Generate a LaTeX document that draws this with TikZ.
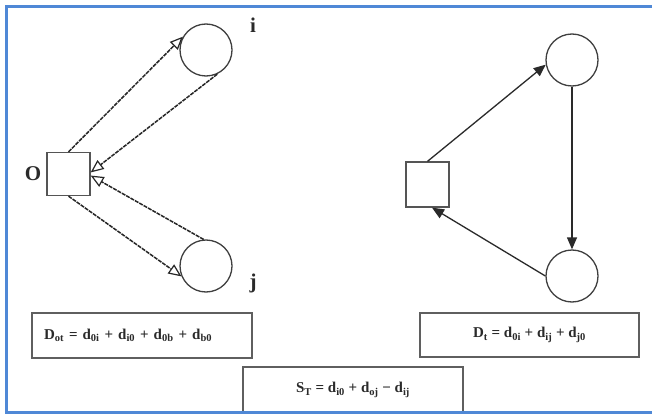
\documentclass[tikz,border=0pt]{standalone}
\usepackage{fontspec}
\setmainfont{Liberation Serif}
\usetikzlibrary{arrows.meta}
\definecolor{frameblue}{HTML}{4F88D6}
\definecolor{ink}{HTML}{2A2A2A}
\begin{document}
\begin{tikzpicture}[x=1pt,y=-1pt,
  sq/.style={draw=ink!80, line width=1.3pt, minimum width=43pt, minimum height=43pt, inner sep=0pt},
  cir/.style={circle, draw=ink!90, line width=1.3pt, minimum size=52pt, inner sep=0pt},
  lbl/.style={font=\bfseries\fontsize{21}{21}\selectfont, text=ink},
  formula/.style={draw=ink!75, line width=1.3pt, font=\bfseries\fontsize{15}{16}\selectfont, text=ink},
  dline/.style={draw=ink!90!black, line width=1.5pt, dash pattern=on 4pt off 1pt, -{Triangle[open,length=13pt,width=11pt,line width=1.2pt]}},
  sline/.style={draw=ink, line width=1.3pt, -{Triangle[length=12pt,width=10pt]}}
]
\useasboundingbox (0,0) rectangle (652,414);
\fill[white] (0,0) rectangle (652,414);

% left diagram
\node[sq] (O) at (68.5,174) {};
\node[cir] (i) at (206,50) {};
\node[cir] (j) at (206,266) {};
\node[lbl] (lO) at (33,174) {O};
\node[lbl] (li) at (253,25) {i};
\node[lbl] (lj) at (253,283) {j};
\draw[dline] (O.north) -- (i.150);
\draw[dline] (i.-65) -- (O.4);
\draw[dline] (j.95) -- (O.-4);
\draw[dline] (O.south) -- (j.203);

% right diagram
\node[sq, minimum height=45pt] (S) at (427.5,184.5) {};
\node[cir] (a) at (572,60) {};
\node[cir] (b) at (572,276) {};
\draw[sline] (S.north) -- (a.190);
\draw[sline] (a.south) -- (b.north);
\draw[sline] (b.west) -- (S.-79);

% formula boxes
\node[formula, minimum width=220pt, minimum height=45pt, text width=196pt, align=left] (f1) at (142,335.5)
  {D\textsubscript{ot} = d\textsubscript{0i} + d\textsubscript{i0} + d\textsubscript{0b} + d\textsubscript{b0}};
\node[formula, minimum width=219pt, minimum height=44pt] (f2) at (529.5,335)
  {D\textsubscript{t} = d\textsubscript{0i} + d\textsubscript{ij} + d\textsubscript{j0}};
\node[formula, minimum width=220pt, minimum height=46pt] (f3) at (353,390)
  {S\textsubscript{T} = d\textsubscript{i0} + d\textsubscript{oj} − d\textsubscript{ij}};

% frame
\draw[frameblue, line width=3pt] (652,7) -- (6.5,7) -- (6.5,412.5) -- (652,412.5);
\end{tikzpicture}
\end{document}
